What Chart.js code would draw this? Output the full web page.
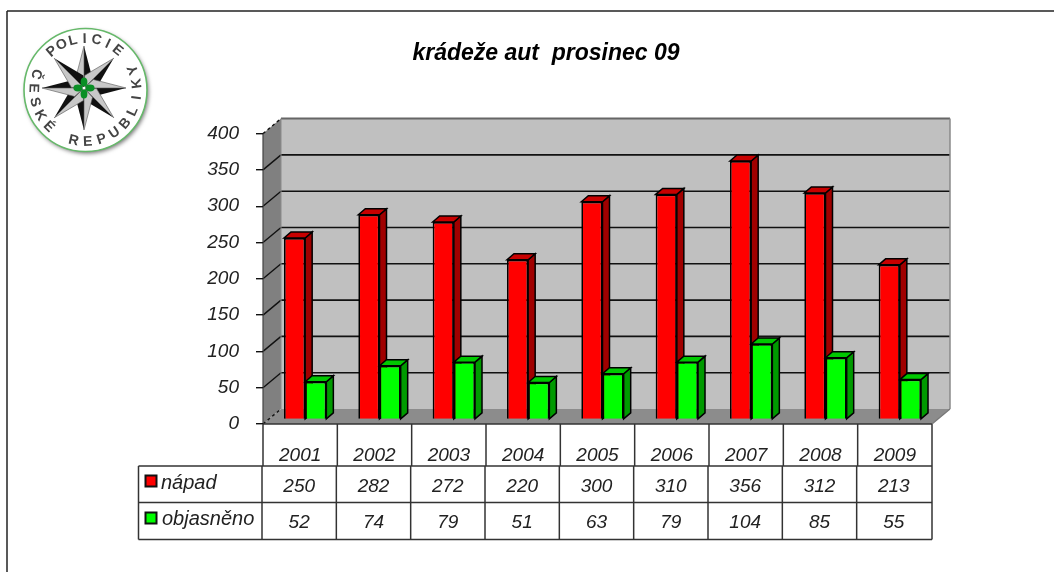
<!DOCTYPE html>
<html><head><meta charset="utf-8">
<style>html,body{margin:0;padding:0;background:#fff}canvas{display:block}</style>
<script src="https://cdn.jsdelivr.net/npm/chart.js@4"></script>
</head><body><canvas id="c" width="1054" height="572"></canvas>
<script>
const categories = ['2001','2002','2003','2004','2005','2006','2007','2008','2009'];
const napad = [250,282,272,220,300,310,356,312,213];
const objasneno = [52,74,79,51,63,79,104,85,55];
const titleText = 'krádeže aut  prosinec 09';
const seriesNames = ['nápad','objasněno'];
const yTicks = [0,50,100,150,200,250,300,350,400];
const logoTop = 'POLICIE';
const logoBottom = 'ČESKÉ REPUBLIKY';

const WALL = {dx:18, dy:-15};
const BAR = {ox:5, oy:-4.5, dx:7, dy:-6};
const faceCols = [{side:'#a00000',top:'#c80000'},{side:'#009a00',top:'#00c800'}];
const FAMILY = '"Liberation Sans", Arial, sans-serif';
const FONT = 'italic 19px '+FAMILY;
const LEGEND_FONT = 'italic 20px '+FAMILY;
const INK = '#222';

function poly(ctx, pts, fill, stroke, lw){
  ctx.beginPath();
  pts.forEach((p,i)=> i? ctx.lineTo(p[0],p[1]) : ctx.moveTo(p[0],p[1]));
  ctx.closePath();
  if(fill){ctx.fillStyle=fill;ctx.fill();}
  if(stroke){ctx.strokeStyle=stroke;ctx.lineWidth=lw||1;ctx.stroke();}
}
function line(ctx,x1,y1,x2,y2,col,lw,dash){
  ctx.save();ctx.beginPath();ctx.moveTo(x1,y1);ctx.lineTo(x2,y2);
  ctx.strokeStyle=col;ctx.lineWidth=lw||1;if(dash)ctx.setLineDash(dash);ctx.stroke();ctx.restore();
}
function faces(chart, idx){
  const ctx=chart.ctx, meta=chart.getDatasetMeta(idx), c=faceCols[idx];
  meta.data.forEach(b=>{
    const p=b.getProps(['x','y','base','width'],true);
    const l=p.x-p.width/2, r=p.x+p.width/2, {dx,dy}=BAR;
    poly(ctx,[[r,p.y],[r+dx,p.y+dy],[r+dx,p.base+dy],[r,p.base]],c.side,'#000',1.5);
    poly(ctx,[[l,p.y],[l+dx,p.y+dy],[r+dx,p.y+dy],[r,p.y]],c.top,'#000',1.5);
  });
}
function drawLogo(ctx){
  const cx=85.5, cy=90, R=61.5;
  ctx.save();
  ctx.shadowColor='rgba(0,0,0,.55)';ctx.shadowBlur=4;ctx.shadowOffsetX=1.5;ctx.shadowOffsetY=2;
  ctx.beginPath();ctx.arc(cx,cy,R,0,Math.PI*2);ctx.fillStyle='#fff';ctx.fill();
  ctx.restore();
  ctx.beginPath();ctx.arc(cx,cy,R,0,Math.PI*2);ctx.strokeStyle='#66b96a';ctx.lineWidth=1.6;ctx.stroke();
  const sx=84, sy=88, L=42, w=8.5;
  for(let k=0;k<8;k++){
    ctx.save();ctx.translate(sx,sy);ctx.rotate(k*Math.PI/4);
    const t=[0,-L], a=[w,-w*1.1], b=[-w,-w*1.1];
    poly(ctx,[[0,0],t,a],'#111');
    poly(ctx,[[0,0],t,b],'#c8c8c8','#555',0.6);
    ctx.restore();
  }
  ctx.fillStyle='#0a8f25';
  [[0,-6],[0,6],[-6,0],[6,0]].forEach(d=>{ctx.beginPath();ctx.ellipse(sx+d[0],sy+d[1],d[0]?4.6:3.4,d[0]?3.4:4.6,0,0,Math.PI*2);ctx.fill();});
  ctx.fillStyle='#fff';ctx.beginPath();ctx.arc(sx,sy,1.3,0,Math.PI*2);ctx.fill();
  ctx.fillStyle='#444';ctx.font='bold 14px '+FAMILY;ctx.textAlign='center';ctx.textBaseline='middle';
  const rad=Math.PI/180;
  [...logoTop].forEach((ch,i)=>{
    const a=(-131+i*80/(logoTop.length-1))*rad;
    ctx.save();ctx.translate(cx+51*Math.cos(a),cy+51*Math.sin(a));ctx.rotate(a+Math.PI/2);ctx.fillText(ch,0,0);ctx.restore();
  });
  [...logoBottom].forEach((ch,i)=>{
    const a=(198-i*221/(logoBottom.length-1))*rad;
    ctx.save();ctx.translate(cx+52*Math.cos(a),cy+52*Math.sin(a));ctx.rotate(a-Math.PI/2);ctx.fillText(ch,0,0);ctx.restore();
  });
}
const scene={
  id:'scene',
  beforeDraw(chart){
    const ctx=chart.ctx,{left,right,top,bottom}=chart.chartArea,{dx,dy}=WALL,ys=chart.scales.y;
    ctx.save();
    ctx.fillStyle='#fff';ctx.fillRect(0,0,chart.width,chart.height);
    line(ctx,7,11,chart.width,11,'#222',1.5);
    line(ctx,7,11,7,chart.height,'#222',1.5);
    drawLogo(ctx);
    poly(ctx,[[left+dx,top+dy],[right+dx,top+dy],[right+dx,bottom+dy],[left+dx,bottom+dy]],'#c0c0c0');
    poly(ctx,[[left,top],[left+dx,top+dy],[left+dx,bottom+dy],[left,bottom]],'#808080');
    poly(ctx,[[left,bottom],[left+dx,bottom+dy],[right+dx,bottom+dy],[right,bottom]],'#8c8c8c');
    yTicks.forEach(v=>{
      const y=ys.getPixelForValue(v);
      const edge=(v===0||v===400);
      if(v>0&&v<400) line(ctx,left+dx,y+dy,right+dx,y+dy,'#111',1.6);
      line(ctx,left,y,left+dx,y+dy,'#111',1.4,edge?[3,3]:null);
    });
    line(ctx,left+dx,top+dy,right+dx,top+dy,'#666',2);
    line(ctx,right+dx,top+dy,right+dx,bottom+dy,'#8a8a8a',1.5);
    line(ctx,left+dx,top+dy,left+dx,bottom+dy,'#8a8a8a',1);
    line(ctx,left,top,left,bottom,'#444',1.2);
    ctx.restore();
  },
  beforeDatasetsDraw(chart){
    chart.ctx.save();
    chart.ctx.translate(BAR.ox,BAR.oy);
    faces(chart,0);
  },
  afterDatasetsDraw(chart){
    faces(chart,1);
    chart.ctx.restore();
  },
  afterDraw(chart){
    const ctx=chart.ctx,{left,right,bottom}=chart.chartArea,xs=chart.scales.x;
    const step=(right-left)/categories.length, dark='#333';
    const r1=466,r2=502.5,r3=539.5,tl=138.5;
    ctx.save();
    line(ctx,left,bottom,right,bottom,dark,1.5);
    line(ctx,right,bottom,right,r3,dark,1.5);
    line(ctx,right,bottom,right+WALL.dx,bottom+WALL.dy,'#777',1.2);
    for(let i=0;i<categories.length;i++){
      const x=left+i*step;
      line(ctx,x,bottom,x,r1,dark,1.5);
      line(ctx,x-1,r1,x-1,r3,dark,1.5);
    }
    line(ctx,tl,r1,right,r1,dark,1.5);
    line(ctx,tl,r2,right,r2,dark,1.5);
    line(ctx,tl,r3,right,r3,dark,1.5);
    line(ctx,tl,r1,tl,r3,dark,1.5);
    ctx.textBaseline='alphabetic';
    [napad,objasneno].forEach((vals,row)=>{
      const base=[491.5,528][row];
      ctx.font=FONT;ctx.textAlign='center';ctx.fillStyle=INK;
      vals.forEach((v,i)=>ctx.fillText(String(v),xs.getPixelForValue(i)-1,base));
      ctx.font=LEGEND_FONT;ctx.textAlign='left';
      ctx.fillText(seriesNames[row],row?162:161,base-3);
      const sy=[475.5,512.5][row];
      ctx.fillStyle=chart.data.datasets[row].backgroundColor;
      ctx.strokeStyle='#111';ctx.lineWidth=2;
      ctx.fillRect(145.5,sy,11,11);ctx.strokeRect(145.5,sy,11,11);
    });
    ctx.restore();
  }
};
new Chart(document.getElementById('c'),{
  type:'bar',
  data:{labels:categories,datasets:[
    {label:seriesNames[0],data:napad,backgroundColor:'#ff0000',borderColor:'#000',borderWidth:1.7,clip:false},
    {label:seriesNames[1],data:objasneno,backgroundColor:'#00ff00',borderColor:'#000',borderWidth:1.7,clip:false}
  ]},
  options:{
    responsive:false,animation:false,devicePixelRatio:1,
    layout:{padding:{left:160,right:122,top:0,bottom:0}},
    categoryPercentage:0.57,barPercentage:1,
    plugins:{
      legend:{display:false},tooltip:{enabled:false},
      title:{display:true,text:titleText,color:'#000',
        font:{family:FAMILY,size:23,style:'italic',weight:'bold'},
        padding:{top:40,bottom:66}}
    },
    scales:{
      x:{grid:{display:false},border:{display:false},
        ticks:{font:{family:FAMILY,size:19,style:'italic'},color:INK,padding:12,maxRotation:0,autoSkip:false},
        afterFit(s){s.height=148;}},
      y:{min:0,max:400,afterBuildTicks(s){s.ticks=yTicks.map(v=>({value:v}));},
        grid:{drawOnChartArea:false,color:'#111',tickLength:7,lineWidth:1.4},border:{display:false},
        ticks:{font:{family:FAMILY,size:19,style:'italic'},color:INK,padding:17},
        afterFit(s){s.width=103;}}
    }
  },
  plugins:[scene]
});
</script></body></html>
